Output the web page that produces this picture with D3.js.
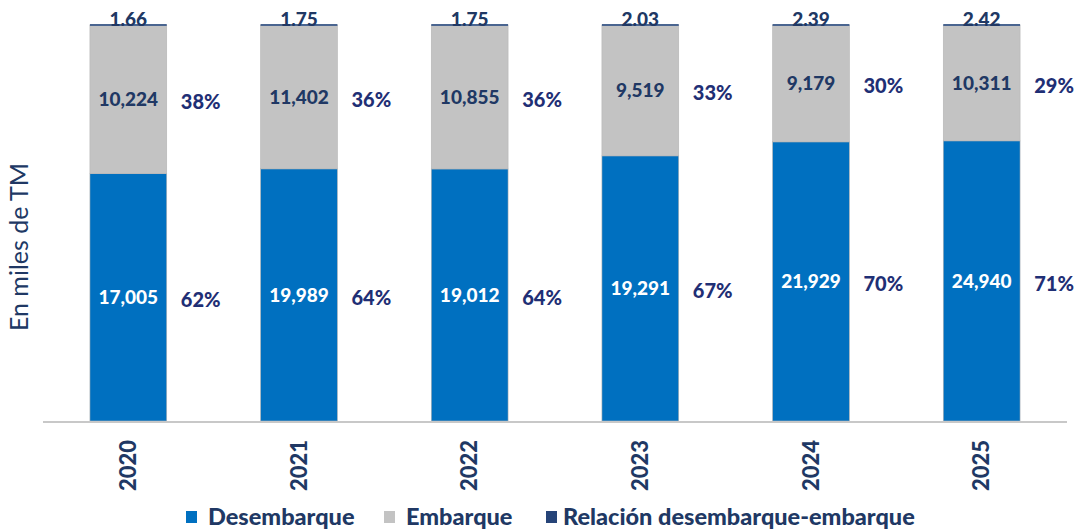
<!DOCTYPE html>
<meta charset="utf-8">
<style>
    body { margin: 0; background: #fff; }
    text { font-family: Lato, "Open Sans", sans-serif; font-weight: 900; }
    .val { font-size: 19px; }
    .top { font-size: 19px; }
    .pct { font-size: 20px; fill: #1f2f75; }
    .tick-lbl { font-size: 22px; fill: #203864; }
    .legend text { font-size: 23.5px; fill: #203864; }
</style>
<body>
<script src="https://cdn.jsdelivr.net/npm/d3@7"></script>
<script>
    var years = ["2020", "2021", "2022", "2023", "2024", "2025"];
    var desembarque = [17005, 19989, 19012, 19291, 21929, 24940];
    var embarque = [10224, 11402, 10855, 9519, 9179, 10311];
    var relacion = [1.66, 1.75, 1.75, 2.03, 2.39, 2.42];

    var seriesNames = ["Desembarque", "Embarque", "Relación desembarque-embarque"];
    var colors = ["#0070c0", "#c3c3c3", "#264478"];

    var width = 1078, height = 531;
    var margin = {top: 25, right: 11, bottom: 110, left: 43};

    var svg = d3.select("body").append("svg")
        .attr("width", width)
        .attr("height", height);

    var rows = years.map(function(y, i) {
        return {year: y, d: desembarque[i], e: embarque[i], r: relacion[i]};
    });

    // 100% stacked, same as the excel chart
    var stack = d3.stack().keys(["d", "e", "r"]).offset(d3.stackOffsetExpand);
    var layers = stack(rows);

    var x = d3.scaleBand()
        .domain(years)
        .range([margin.left, width - margin.right])
        .paddingInner(0.55)
        .paddingOuter(0.275);

    var y = d3.scaleLinear()
        .domain([0, 1])
        .range([height - margin.bottom, margin.top]);

    // bars
    svg.append("g").selectAll("g")
        .data(layers.slice(0, 2))
        .join("g")
        .attr("fill", function(d, i) { return colors[i]; })
        .selectAll("rect")
        .data(function(d) { return d; })
        .join("rect")
        .attr("x", function(d) { return x(d.data.year); })
        .attr("y", function(d) { return y(d[1]); })
        .attr("width", x.bandwidth())
        .attr("height", function(d) { return y(d[0]) - y(d[1]); })
        .attr("stroke", "#b4b4b4")
        .attr("stroke-width", 0.6);

    // relacion: tiny slice on top, shows as a thin line
    svg.append("g").selectAll("line")
        .data(layers[2])
        .join("line")
        .attr("x1", function(d) { return x(d.data.year); })
        .attr("x2", function(d) { return x(d.data.year) + x.bandwidth(); })
        .attr("y1", function(d) { return y(d[1]); })
        .attr("y2", function(d) { return y(d[1]); })
        .attr("stroke", "#4a6590")
        .attr("stroke-width", 2);

    // axis
    svg.append("line")
        .attr("x1", margin.left).attr("x2", width - margin.right)
        .attr("y1", y(0) + 1).attr("y2", y(0) + 1)
        .attr("stroke", "#c8c8c8")
        .attr("stroke-width", 2);

    var fmt = d3.format(",");
    var pfmt = d3.format(".0%");

    // value labels inside segments
    layers.slice(0, 2).forEach(function(layer, li) {
        var g = svg.append("g");
        g.selectAll("text.val")
            .data(layer)
            .join("text")
            .attr("class", "val")
            .attr("x", function(d) { return x(d.data.year) + x.bandwidth() / 2; })
            .attr("y", function(d) { return (y(d[0]) + y(d[1])) / 2; })
            .attr("dy", "0.35em")
            .attr("text-anchor", "middle")
            .attr("fill", li == 0 ? "#ffffff" : "#203864")
            .text(function(d) { return fmt(li == 0 ? d.data.d : d.data.e); });

        g.selectAll("text.pct")
            .data(layer)
            .join("text")
            .attr("class", "pct")
            .attr("x", function(d) { return x(d.data.year) + x.bandwidth() + 34; })
            .attr("y", function(d) { return (y(d[0]) + y(d[1])) / 2 + 3; })
            .attr("dy", "0.35em")
            .attr("text-anchor", "middle")
            .text(function(d) { return pfmt((li == 0 ? d.data.d : d.data.e) / (d.data.d + d.data.e)); });
    });

    // relacion labels on top
    svg.append("g").selectAll("text")
        .data(layers[2])
        .join("text")
        .attr("class", "top")
        .attr("x", function(d) { return x(d.data.year) + x.bandwidth() / 2; })
        .attr("y", function(d) { return y(d[1]) + 1; })
        .attr("text-anchor", "middle")
        .attr("fill", "#203864")
        .text(function(d) { return d.data.r.toFixed(2); });

    // x tick labels, rotated
    svg.append("g").selectAll("text")
        .data(years)
        .join("text")
        .attr("class", "tick-lbl")
        .attr("transform", function(d) {
            return "translate(" + (x(d) + x.bandwidth() / 2) + "," + (y(0) + 19) + ") rotate(-90)";
        })
        .attr("dy", "0.35em")
        .attr("text-anchor", "end")
        .text(function(d) { return d; });

    // y title
    svg.append("text")
        .attr("transform", "translate(19," + 247 + ") rotate(-90)")
        .attr("dy", "0.35em")
        .attr("text-anchor", "middle")
        .attr("fill", "#203864")
        .style("font-size", "25px")
        .style("font-weight", "normal")
        .text("En miles de TM");

    // legend
    var legend = svg.append("g").attr("class", "legend");
    var lx = [186, 384, 546];
    seriesNames.forEach(function(name, i) {
        var g = legend.append("g").attr("transform", "translate(" + lx[i] + ",517)");
        g.append("rect")
            .attr("x", 0).attr("y", -6)
            .attr("width", 11).attr("height", 12)
            .attr("fill", colors[i]);
        g.append("text")
            .attr("x", i == 2 ? 17 : 22)
            .attr("dy", "0.35em")
            .text(name);
    });
</script>
</body>
